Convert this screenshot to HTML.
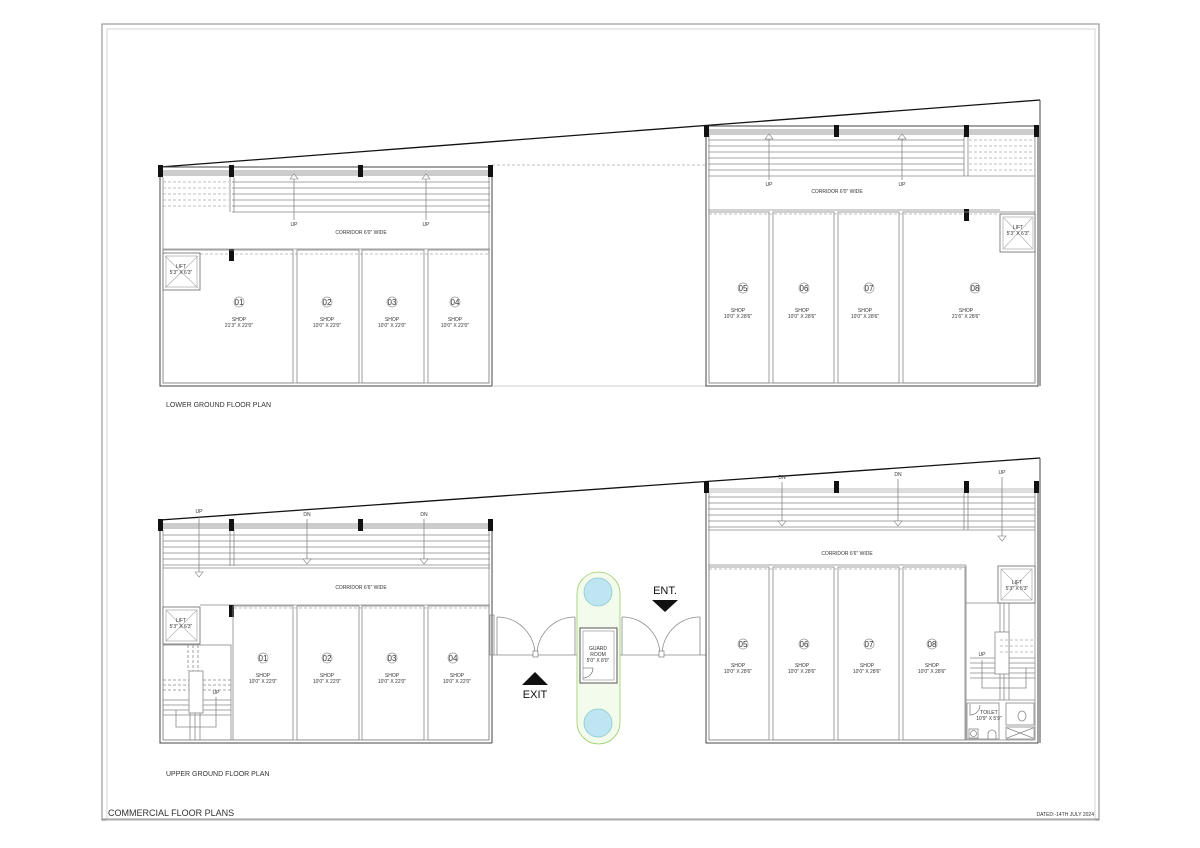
<!DOCTYPE html>
<html><head><meta charset="utf-8"><style>
body{margin:0;background:#fff}
svg{display:block}
text{font-family:"Liberation Sans",sans-serif;fill:#333}
.w{fill:none;stroke:#444;stroke-width:1}
.t{fill:none;stroke:#888;stroke-width:.8}
.d{fill:none;stroke:#aaa;stroke-width:.8;stroke-dasharray:3 2}
.c{fill:#111}
.s{font-size:5px;text-anchor:middle}
.n{font-size:8px;text-anchor:middle}
</style></head><body>
<svg width="1200" height="848" viewBox="0 0 1200 848" xmlns="http://www.w3.org/2000/svg">
<!-- frame -->
<rect x="102" y="24" width="997" height="796" fill="none" stroke="#999" stroke-width="1.2"/>
<rect x="107" y="29" width="988" height="791" fill="none" stroke="#ccc" stroke-width="0.8"/>
<line x1="102" y1="819" x2="1099" y2="819" stroke="#999"/>
<text x="108" y="816" font-size="9">COMMERCIAL FLOOR PLANS</text>
<text x="1094" y="816" font-size="5" text-anchor="end">DATED:-14TH JULY 2024</text>
<text x="166" y="407" font-size="7">LOWER GROUND FLOOR PLAN</text>
<text x="166" y="776" font-size="7">UPPER GROUND FLOOR PLAN</text>

<!-- ================= LOWER PLAN ================= -->
<line x1="160" y1="167" x2="1040" y2="100" stroke="#111" stroke-width="1.3"/>
<line x1="1040" y1="100" x2="1040" y2="386" class="w"/>
<!-- left block -->
<path d="M160 167 V386 H492 V167 Z" class="w" stroke-width="1.5"/>
<path d="M163 177 V383 H489 V177" class="t"/>
<rect x="162" y="170" width="328" height="6" fill="#ccc"/>
<g class="t">
<line x1="232" y1="182" x2="490" y2="182"/><line x1="232" y1="188" x2="490" y2="188"/><line x1="232" y1="194" x2="490" y2="194"/><line x1="232" y1="200" x2="490" y2="200"/><line x1="232" y1="206" x2="490" y2="206"/><line x1="232" y1="212" x2="490" y2="212"/>
<line x1="230" y1="177" x2="230" y2="212"/><line x1="234" y1="177" x2="234" y2="212"/>
<line x1="163" y1="249" x2="490" y2="249"/>
</g>
<g class="d">
<line x1="163" y1="182" x2="229" y2="182"/><line x1="163" y1="188" x2="229" y2="188"/><line x1="163" y1="194" x2="229" y2="194"/><line x1="163" y1="200" x2="229" y2="200"/><line x1="163" y1="206" x2="229" y2="206"/>
<line x1="200" y1="254" x2="490" y2="254"/>
<line x1="492" y1="165" x2="706" y2="165"/>
</g>
<line x1="492" y1="386" x2="706" y2="386" stroke="#ccc"/>
<rect x="158" y="165" width="5" height="12" class="c"/><rect x="229" y="165" width="5" height="12" class="c"/><rect x="358" y="165" width="5" height="12" class="c"/><rect x="488" y="165" width="5" height="12" class="c"/>
<rect x="229" y="249" width="5" height="12" class="c"/>
<!-- shop walls -->
<g class="t">
<rect x="163" y="250" width="130" height="133"/>
<rect x="297" y="250" width="62" height="133"/>
<rect x="362" y="250" width="62" height="133"/>
<rect x="428" y="250" width="61" height="133"/>
</g>
<rect x="163" y="253" width="37" height="37" fill="#fff" stroke="#666" stroke-width=".8"/>
<path d="M165 256 L198 288 M198 256 L165 288" stroke="#aaa" stroke-width=".6"/>
<rect x="166" y="256" width="31" height="31" fill="none" stroke="#999" stroke-width=".6"/>
<text x="181" y="268" class="s">LIFT</text><text x="181" y="274" class="s">5'3" X 6'3"</text>
<!-- arrows -->
<g class="t"><line x1="294" y1="177" x2="294" y2="220"/><line x1="426" y1="177" x2="426" y2="220"/></g>
<path d="M290 179 L294 174 L298 179 Z M422 179 L426 174 L430 179 Z" fill="#fff" stroke="#777" stroke-width=".6"/>
<text x="294" y="226" class="s">UP</text><text x="426" y="226" class="s">UP</text>
<text x="361" y="234" class="s">CORRIDOR 6'0" WIDE</text>
<g fill="#fff" stroke="#999" stroke-width=".7">
<circle cx="239" cy="302" r="5"/><circle cx="327" cy="302" r="5"/><circle cx="392" cy="302" r="5"/><circle cx="455" cy="302" r="5"/>
</g>
<text x="239" y="305" class="n">01</text><text x="327" y="305" class="n">02</text><text x="392" y="305" class="n">03</text><text x="455" y="305" class="n">04</text>
<text x="239" y="321" class="s">SHOP</text><text x="239" y="327" class="s">21'3" X 22'0"</text>
<text x="327" y="321" class="s">SHOP</text><text x="327" y="327" class="s">10'0" X 22'0"</text>
<text x="392" y="321" class="s">SHOP</text><text x="392" y="327" class="s">10'0" X 22'0"</text>
<text x="455" y="321" class="s">SHOP</text><text x="455" y="327" class="s">10'0" X 22'0"</text>

<!-- right block lower -->
<path d="M706 126 V386 H1038 V126" class="w" stroke-width="1.5"/>
<line x1="706" y1="126" x2="1038" y2="126" class="w"/>
<path d="M709 132 V383 H1035 V132" class="t"/>
<rect x="708" y="129" width="328" height="6" fill="#ccc"/>
<g class="t">
<line x1="708" y1="140" x2="964" y2="140"/><line x1="708" y1="146" x2="964" y2="146"/><line x1="708" y1="152" x2="964" y2="152"/><line x1="708" y1="158" x2="964" y2="158"/><line x1="708" y1="164" x2="964" y2="164"/><line x1="708" y1="170" x2="964" y2="170"/><line x1="708" y1="176" x2="1035" y2="176"/>
<line x1="964" y1="135" x2="964" y2="176"/><line x1="968" y1="135" x2="968" y2="176"/>
<line x1="708" y1="210" x2="1000" y2="210"/>
</g>
<g class="d">
<line x1="969" y1="140" x2="1035" y2="140"/><line x1="969" y1="146" x2="1035" y2="146"/><line x1="969" y1="152" x2="1035" y2="152"/><line x1="969" y1="158" x2="1035" y2="158"/><line x1="969" y1="164" x2="1035" y2="164"/><line x1="969" y1="170" x2="1035" y2="170"/>
<line x1="709" y1="214" x2="998" y2="214"/>
</g>
<rect x="704" y="125" width="5" height="12" class="c"/><rect x="834" y="125" width="5" height="12" class="c"/><rect x="964" y="125" width="5" height="12" class="c"/><rect x="1034" y="125" width="5" height="12" class="c"/>
<rect x="964" y="209" width="5" height="12" class="c"/>
<g class="t">
<rect x="709" y="212" width="60" height="171"/>
<rect x="773" y="212" width="61" height="171"/>
<rect x="838" y="212" width="61" height="171"/>
<rect x="903" y="212" width="132" height="171"/>
</g>
<rect x="1000" y="214" width="35" height="38" fill="#fff" stroke="#666" stroke-width=".8"/>
<rect x="1003" y="217" width="30" height="32" fill="none" stroke="#999" stroke-width=".6"/>
<path d="M1004 218 L1032 248 M1032 218 L1004 248" stroke="#aaa" stroke-width=".6"/>
<text x="1018" y="229" class="s">LIFT</text><text x="1018" y="235" class="s">5'3" X 6'3"</text>
<g class="t"><line x1="769" y1="137" x2="769" y2="180"/><line x1="902" y1="137" x2="902" y2="180"/></g>
<path d="M765 139 L769 134 L773 139 Z M898 139 L902 134 L906 139 Z" fill="#fff" stroke="#777" stroke-width=".6"/>
<text x="769" y="186" class="s">UP</text><text x="902" y="186" class="s">UP</text>
<text x="837" y="193" class="s">CORRIDOR 6'0" WIDE</text>
<g fill="#fff" stroke="#999" stroke-width=".7">
<circle cx="743" cy="288" r="5"/><circle cx="804" cy="288" r="5"/><circle cx="869" cy="288" r="5"/><circle cx="975" cy="288" r="5"/>
</g>
<text x="743" y="291" class="n">05</text><text x="804" y="291" class="n">06</text><text x="869" y="291" class="n">07</text><text x="975" y="291" class="n">08</text>
<text x="738" y="312" class="s">SHOP</text><text x="738" y="318" class="s">10'0" X 28'6"</text>
<text x="802" y="312" class="s">SHOP</text><text x="802" y="318" class="s">10'0" X 28'6"</text>
<text x="865" y="312" class="s">SHOP</text><text x="865" y="318" class="s">10'0" X 28'6"</text>
<text x="966" y="312" class="s">SHOP</text><text x="966" y="318" class="s">21'6" X 28'6"</text>

<!-- ================= UPPER PLAN ================= -->
<line x1="160" y1="520" x2="1040" y2="458" stroke="#111" stroke-width="1.3"/>
<line x1="1040" y1="458" x2="1040" y2="743" class="w"/>
<path d="M160 520 V743 H492" class="w" stroke-width="1.5"/>
<line x1="492" y1="522" x2="492" y2="743" class="w"/>
<path d="M163 530 V740 H489 V530" class="t"/>
<rect x="162" y="523" width="328" height="6" fill="#ccc"/>
<g class="t">
<line x1="163" y1="535" x2="490" y2="535"/><line x1="163" y1="541" x2="490" y2="541"/><line x1="163" y1="547" x2="490" y2="547"/><line x1="163" y1="553" x2="490" y2="553"/><line x1="163" y1="559" x2="490" y2="559"/><line x1="163" y1="565" x2="490" y2="565"/><line x1="163" y1="568" x2="490" y2="568"/>
<line x1="230" y1="529" x2="230" y2="566"/><line x1="234" y1="529" x2="234" y2="566"/>
<line x1="200" y1="605" x2="490" y2="605"/>
</g>
<line x1="234" y1="608" x2="490" y2="608" class="d"/>
<rect x="158" y="519" width="5" height="12" class="c"/><rect x="229" y="519" width="5" height="12" class="c"/><rect x="358" y="519" width="5" height="12" class="c"/><rect x="488" y="519" width="5" height="12" class="c"/>
<rect x="229" y="605" width="5" height="12" class="c"/>
<g class="t">
<rect x="233" y="606" width="60" height="134"/>
<rect x="297" y="606" width="62" height="134"/>
<rect x="362" y="606" width="62" height="134"/>
<rect x="428" y="606" width="61" height="134"/>
<rect x="163" y="645" width="68" height="95"/>
<line x1="163" y1="680" x2="231" y2="680" stroke-dasharray="3 2"/><line x1="163" y1="685" x2="231" y2="685" stroke-dasharray="3 2"/><line x1="163" y1="690" x2="231" y2="690" stroke-dasharray="3 2"/>
<line x1="163" y1="700" x2="231" y2="700"/><line x1="163" y1="705" x2="231" y2="705"/><line x1="163" y1="710" x2="231" y2="710"/><line x1="163" y1="715" x2="231" y2="715"/>
<rect x="189" y="671" width="14" height="42" fill="#fff"/>
<line x1="188" y1="645" x2="188" y2="671" stroke-dasharray="3 2"/><line x1="193" y1="645" x2="193" y2="671" stroke-dasharray="3 2"/><line x1="198" y1="645" x2="198" y2="671" stroke-dasharray="3 2"/>
<line x1="190" y1="713" x2="190" y2="740"/><line x1="195" y1="713" x2="195" y2="740"/><line x1="200" y1="713" x2="200" y2="740"/>
<path d="M176 710 V727 H216 V697"/>
</g>
<text x="216" y="694" class="s">UP</text>
<rect x="163" y="607" width="37" height="37" fill="#fff" stroke="#666" stroke-width=".8"/>
<rect x="166" y="610" width="31" height="31" fill="none" stroke="#999" stroke-width=".6"/>
<path d="M166 610 L197 641 M197 610 L166 641" stroke="#aaa" stroke-width=".6"/>
<text x="181" y="622" class="s">LIFT</text><text x="181" y="628" class="s">5'3" X 6'3"</text>
<g class="t"><line x1="199" y1="516" x2="199" y2="574"/><line x1="307" y1="519" x2="307" y2="561"/><line x1="424" y1="519" x2="424" y2="561"/></g>
<path d="M195 572 L199 577 L203 572 Z M303 559 L307 564 L311 559 Z M420 559 L424 564 L428 559 Z" fill="#fff" stroke="#777" stroke-width=".6"/>
<text x="199" y="513" class="s">UP</text><text x="307" y="516" class="s">DN</text><text x="424" y="516" class="s">DN</text>
<text x="361" y="589" class="s">CORRIDOR 6'6" WIDE</text>
<g fill="#fff" stroke="#999" stroke-width=".7">
<circle cx="263" cy="658" r="5"/><circle cx="327" cy="658" r="5"/><circle cx="392" cy="658" r="5"/><circle cx="453" cy="658" r="5"/>
</g>
<text x="263" y="661" class="n">01</text><text x="327" y="661" class="n">02</text><text x="392" y="661" class="n">03</text><text x="453" y="661" class="n">04</text>
<text x="263" y="677" class="s">SHOP</text><text x="263" y="683" class="s">10'0" X 22'0"</text>
<text x="327" y="677" class="s">SHOP</text><text x="327" y="683" class="s">10'0" X 22'0"</text>
<text x="392" y="677" class="s">SHOP</text><text x="392" y="683" class="s">10'0" X 22'0"</text>
<text x="457" y="677" class="s">SHOP</text><text x="457" y="683" class="s">10'0" X 22'0"</text>

<!-- gate area -->
<g class="t">
<rect x="490" y="615" width="4" height="40"/>
<line x1="494" y1="655" x2="577" y2="655"/>
<line x1="620" y1="655" x2="706" y2="655"/>
<line x1="497" y1="617" x2="497" y2="655"/>
<path d="M497 617 A38 38 0 0 1 535 655"/>
<path d="M575 617 A38 38 0 0 0 537 655"/>
<line x1="575" y1="617" x2="575" y2="655"/>
<line x1="622" y1="617" x2="622" y2="655"/>
<path d="M622 617 A38 38 0 0 1 660 655"/>
<line x1="700" y1="617" x2="700" y2="655"/>
<path d="M700 617 A38 38 0 0 0 662 655"/>
</g>
<rect x="533" y="651" width="5" height="6" fill="#fff" stroke="#666" stroke-width=".6"/>
<rect x="659" y="651" width="5" height="6" fill="#fff" stroke="#666" stroke-width=".6"/>
<rect x="577" y="572" width="43" height="172" rx="21.5" fill="#f3fbec" stroke="#9c6" stroke-width=".8"/>
<circle cx="598" cy="592" r="14" fill="#bfe5f2" stroke="#8cc" stroke-width=".8"/>
<circle cx="598" cy="723" r="14" fill="#bfe5f2" stroke="#8cc" stroke-width=".8"/>
<rect x="580" y="628" width="37" height="55" fill="#fff" stroke="#555"/>
<rect x="583" y="631" width="31" height="49" fill="none" stroke="#888" stroke-width=".6"/>
<path d="M583 668 H593 A10 10 0 0 1 583 678" fill="none" stroke="#555" stroke-width=".6"/>
<text x="598" y="650" class="s">GUARD</text><text x="598" y="656" class="s">ROOM</text><text x="598" y="662" class="s">5'0" X 8'0"</text>
<path d="M522 685 L535 672 L548 685 Z" fill="#111"/>
<text x="535" y="698" font-size="11" text-anchor="middle" style="fill:#111">EXIT</text>
<text x="665" y="594" font-size="11" text-anchor="middle" style="fill:#111">ENT.</text>
<path d="M652 600 L678 600 L665 612 Z" fill="#111"/>

<!-- right block upper -->
<path d="M706 483 V743 H1038 V483" class="w" stroke-width="1.5"/>
<path d="M709 492 V740 H1035 V492" class="t"/>
<rect x="708" y="488" width="328" height="5" fill="#ddd"/>
<g class="t">
<line x1="708" y1="497" x2="1035" y2="497"/><line x1="708" y1="503" x2="1035" y2="503"/><line x1="708" y1="509" x2="1035" y2="509"/><line x1="708" y1="515" x2="1035" y2="515"/><line x1="708" y1="521" x2="1035" y2="521"/><line x1="708" y1="527" x2="1035" y2="527"/><line x1="708" y1="530" x2="1035" y2="530"/>
<line x1="964" y1="493" x2="964" y2="530"/><line x1="968" y1="493" x2="968" y2="530"/>
<line x1="708" y1="565" x2="966" y2="565"/>
</g>
<rect x="704" y="481" width="5" height="12" class="c"/><rect x="834" y="481" width="5" height="12" class="c"/><rect x="964" y="481" width="5" height="12" class="c"/><rect x="1034" y="481" width="5" height="12" class="c"/>
<line x1="709" y1="569" x2="964" y2="569" class="d"/>
<g class="t">
<rect x="709" y="567" width="60" height="173"/>
<rect x="773" y="567" width="61" height="173"/>
<rect x="838" y="567" width="61" height="173"/>
<rect x="903" y="567" width="62" height="173"/>
<line x1="966" y1="565" x2="966" y2="740"/>
<line x1="966" y1="603" x2="1035" y2="603"/>
<line x1="1000" y1="603" x2="1000" y2="700"/><line x1="1004" y1="603" x2="1004" y2="700"/><line x1="1009" y1="603" x2="1009" y2="700"/>
<line x1="970" y1="658" x2="1035" y2="658"/><line x1="970" y1="663" x2="1035" y2="663"/><line x1="970" y1="668" x2="1035" y2="668"/><line x1="970" y1="673" x2="1035" y2="673"/><line x1="970" y1="678" x2="1035" y2="678"/>
<path d="M982 660 V688 H1026 V668"/>
<rect x="995" y="632" width="14" height="42" fill="#fff"/>
<line x1="966" y1="700" x2="1035" y2="700"/>
<rect x="967" y="703" width="32" height="36"/>
<rect x="1006" y="703" width="28" height="22"/>
<rect x="1006" y="727" width="28" height="12"/>
<path d="M1007 728 L1033 738 M1033 728 L1007 738"/>
<path d="M970 704 V715 A10 10 0 0 0 980 705"/>
<rect x="969" y="729" width="9" height="9"/><circle cx="973.5" cy="733.5" r="3"/>
<path d="M988 739 V734 A4 4 0 0 1 996 734 V739"/>
<ellipse cx="1022" cy="716" rx="4" ry="5"/>
</g>
<g class="d"><line x1="1000" y1="640" x2="1035" y2="640"/><line x1="1000" y1="646" x2="1035" y2="646"/><line x1="1000" y1="652" x2="1035" y2="652"/></g>
<text x="982" y="656" class="s">UP</text>
<text x="989" y="714" class="s">TOILET</text><text x="989" y="720" class="s">10'9" X 5'9"</text>
<rect x="998" y="566" width="37" height="37" fill="#fff" stroke="#666" stroke-width=".8"/>
<rect x="1001" y="569" width="31" height="31" fill="none" stroke="#999" stroke-width=".6"/>
<path d="M1001 569 L1032 600 M1032 569 L1001 600" stroke="#aaa" stroke-width=".6"/>
<text x="1017" y="584" class="s">LIFT</text><text x="1017" y="590" class="s">5'3" X 5'3"</text>
<g class="t"><line x1="782" y1="482" x2="782" y2="523"/><line x1="898" y1="479" x2="898" y2="523"/><line x1="1002" y1="477" x2="1002" y2="538"/></g>
<path d="M778 521 L782 526 L786 521 Z M894 521 L898 526 L902 521 Z M998 536 L1002 541 L1006 536 Z" fill="#fff" stroke="#777" stroke-width=".6"/>
<text x="782" y="479" class="s">DN</text><text x="898" y="476" class="s">DN</text><text x="1002" y="474" class="s">UP</text>
<text x="847" y="555" class="s">CORRIDOR 6'6" WIDE</text>
<g fill="#fff" stroke="#999" stroke-width=".7">
<circle cx="743" cy="644" r="5"/><circle cx="804" cy="644" r="5"/><circle cx="869" cy="644" r="5"/><circle cx="932" cy="644" r="5"/>
</g>
<text x="743" y="647" class="n">05</text><text x="804" y="647" class="n">06</text><text x="869" y="647" class="n">07</text><text x="932" y="647" class="n">08</text>
<text x="738" y="667" class="s">SHOP</text><text x="738" y="673" class="s">10'0" X 28'6"</text>
<text x="802" y="667" class="s">SHOP</text><text x="802" y="673" class="s">10'0" X 28'6"</text>
<text x="867" y="667" class="s">SHOP</text><text x="867" y="673" class="s">10'0" X 28'6"</text>
<text x="932" y="667" class="s">SHOP</text><text x="932" y="673" class="s">10'0" X 28'6"</text>
</svg>
</body></html>
